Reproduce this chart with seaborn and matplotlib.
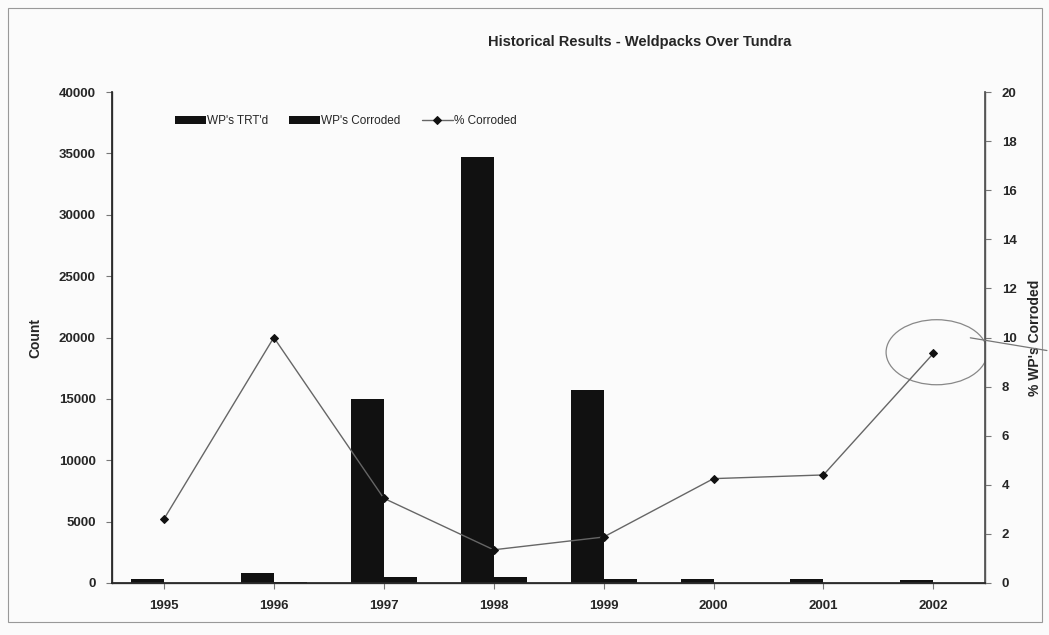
"""
Historical Results - Weldpacks Over Tundra
Bar counts (left axis) with % corroded line (right axis).
"""

import matplotlib
matplotlib.use("Agg")
import matplotlib.pyplot as plt
from matplotlib.patches import Ellipse, Rectangle
from matplotlib.lines import Line2D
import numpy as np
import pandas as pd
import seaborn as sns


# ─────────────────────────────────────────────
# Data
# ─────────────────────────────────────────────

years = ["1995", "1996", "1997", "1998", "1999", "2000", "2001", "2002"]
wps_treated = [350, 800, 15000, 34700, 15700, 300, 300, 250]
wps_corroded = [20, 100, 500, 450, 350, 20, 20, 20]
pct_corroded = [2.6, 10.0, 3.45, 1.35, 1.87, 4.25, 4.4, 9.35]


# ─────────────────────────────────────────────
# Plot
# ─────────────────────────────────────────────

sns.set_theme(style="white")
plt.rcParams["font.family"] = ["Liberation Sans", "DejaVu Sans"]

bars = pd.DataFrame({
    "Year": years * 2,
    "Count": wps_treated + wps_corroded,
    "Series": ["WP's TRT'd"] * len(years) + ["WP's Corroded"] * len(years),
})
line = pd.DataFrame({"pos": np.arange(len(years)), "pct": pct_corroded})

fig = plt.figure(figsize=(10.49, 6.35), dpi=100)
fig.patch.set_facecolor("#fbfbfb")
ax = fig.add_axes([0.107, 0.082, 0.832, 0.773])
ax.set_facecolor("#fbfbfb")

sns.barplot(
    data=bars, x="Year", y="Count", hue="Series", order=years,
    palette=["#111111", "#111111"], width=0.6, saturation=1,
    edgecolor="#111111", linewidth=0, ax=ax,
)
ax.set_ylim(0, 40000)
ax.set_xlim(-0.47, 7.47)
ax.set_yticks(range(0, 40001, 5000))
ax.set_yticklabels([str(v) for v in range(0, 40001, 5000)],
                   fontsize=9.5, fontweight="bold")
ax.set_xticklabels(years, fontsize=9.5, fontweight="bold")
ax.set_xlabel("")
ax.set_ylabel("Count", fontsize=10, fontweight="bold", labelpad=12)
ax.tick_params(axis="both", length=4, width=0.8, color="#777777",
               direction="out", bottom=True, left=True, pad=8)
for side in ["left", "bottom", "right"]:
    ax.spines[side].set_color("#555555")
    ax.spines[side].set_linewidth(1.0)
ax.spines["top"].set_visible(False)

ax2 = ax.twinx()
sns.lineplot(
    data=line, x="pos", y="pct", ax=ax2, color="#666666", linewidth=1.0,
    marker="D", markersize=4, markerfacecolor="#111111",
    markeredgecolor="#111111", label="% Corroded", legend=False,
)
ax2.set_ylim(0, 20)
ax2.set_yticks(range(0, 21, 2))
ax2.set_yticklabels([str(v) for v in range(0, 21, 2)],
                    fontsize=9.5, fontweight="bold")
ax2.set_ylabel("% WP's Corroded", fontsize=10, fontweight="bold", labelpad=8)
ax2.tick_params(axis="y", length=4, width=0.8, color="#777777", pad=8)
ax2.spines["top"].set_visible(False)
ax2.spines["right"].set_color("#555555")

# hand-drawn circle around the 2002 point, with its pen stroke to the label
ax2.add_patch(Ellipse((7.03, 9.4), 0.92, 2.65, fill=False,
                      edgecolor="#888888", linewidth=0.9))
fig.add_artist(Line2D([0.925, 0.998], [0.468, 0.448], transform=fig.transFigure,
                      color="#777777", linewidth=0.9))

# legend across the top of the plot area
h1, l1 = ax.get_legend_handles_labels()
h2, l2 = ax2.get_legend_handles_labels()
ax.legend(h1 + h2, l1 + l2, loc="upper left", bbox_to_anchor=(0.06, 0.975),
          ncol=3, frameon=False, fontsize=8.5, handlelength=2.6,
          handletextpad=0.1, columnspacing=1.8)

fig.suptitle("Historical Results - Weldpacks Over Tundra",
             x=0.61, y=0.945, fontsize=10.5, fontweight="bold")

# chart-area border
fig.patches.append(Rectangle((0.008, 0.02), 0.985, 0.968, transform=fig.transFigure,
                             fill=False, edgecolor="#999999", linewidth=0.8))

plt.savefig("out.png", dpi=100, facecolor=fig.get_facecolor())
plt.close()
